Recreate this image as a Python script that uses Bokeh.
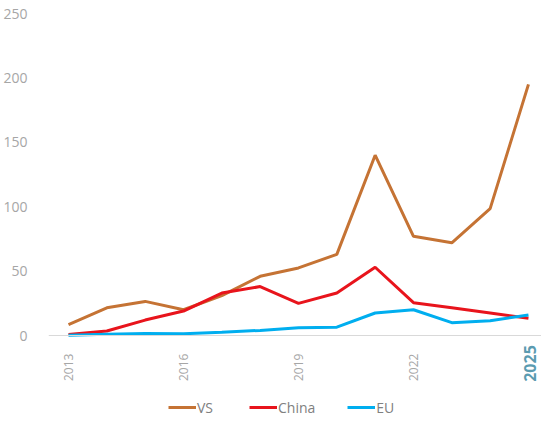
import math
from bokeh.plotting import figure
from bokeh.models import Range1d, FixedTicker, Legend, LegendItem, Label
from bokeh.embed import file_html
from bokeh.resources import INLINE

years = list(range(2013, 2026))
vs = [8.5, 21.5, 26.5, 20, 31, 46, 52.5, 63, 140, 77, 72, 98.5, 195]
china = [0.8, 3.5, 12, 19, 33, 38, 25, 33, 53, 25.5, 21.5, 17.5, 13.5]
eu = [0.3, 1, 1.5, 1.3, 2.5, 4, 6, 6.5, 17.5, 20, 10, 11.5, 16]
x_ticks = [2013, 2016, 2019, 2022]
highlight_year = 2025
y_ticks = [0, 50, 100, 150, 200, 250]

FONT = "Open Sans"

p = figure(width=541, height=418, output_backend="svg", toolbar_location=None,
           x_range=Range1d(2012.478, 2025.34), y_range=Range1d(-64.4, 250),
           min_border_top=13, min_border_left=48, min_border_right=0,
           min_border_bottom=0)
p.outline_line_color = None
p.grid.visible = False
p.background_fill_color = "white"
p.border_fill_color = "white"

# y axis
ya = p.yaxis[0]
ya.ticker = FixedTicker(ticks=y_ticks)
ya.axis_line_color = None
ya.major_tick_line_color = None
ya.minor_tick_line_color = None
ya.major_label_text_font = FONT
ya.major_label_text_font_size = "14px"
ya.major_label_text_color = "#a6a6a6"
ya.major_label_standoff = 15

# x axis, drawn at y = 0
xa = p.xaxis[0]
xa.fixed_location = 0
xa.ticker = FixedTicker(ticks=x_ticks)
xa.axis_line_color = "#d9d9d9"
xa.axis_line_width = 1
xa.major_tick_line_color = None
xa.minor_tick_line_color = None
xa.major_label_orientation = math.pi / 2
xa.major_label_text_font = FONT
xa.major_label_text_font_size = "12px"
xa.major_label_text_color = "#a6a6a6"
xa.major_label_standoff = 12

r_vs = p.line(years, vs, line_color="#c57334", line_width=3)
r_cn = p.line(years, china, line_color="#e8141c", line_width=3)
r_eu = p.line(years, eu, line_color="#00aeef", line_width=3)

lbl = Label(x=highlight_year, y=-7.5, text=str(highlight_year), angle=math.pi / 2,
            text_align="right", text_baseline="middle",
            text_font=FONT, text_font_size="16px", text_font_style="bold",
            text_color="#5b9bb0", x_offset=2)
p.add_layout(lbl)

legend = Legend(items=[LegendItem(label="VS", renderers=[r_vs]),
                       LegendItem(label="China", renderers=[r_cn]),
                       LegendItem(label="EU", renderers=[r_eu])],
                orientation="horizontal", location=(120, 1),
                glyph_width=28, label_standoff=1, spacing=32,
                label_text_font=FONT, label_text_font_size="14px",
                label_text_color="#808080", border_line_color=None,
                padding=0, margin=0, background_fill_alpha=0)
p.add_layout(legend)

open("out.html", "w").write(file_html(p, INLINE))
